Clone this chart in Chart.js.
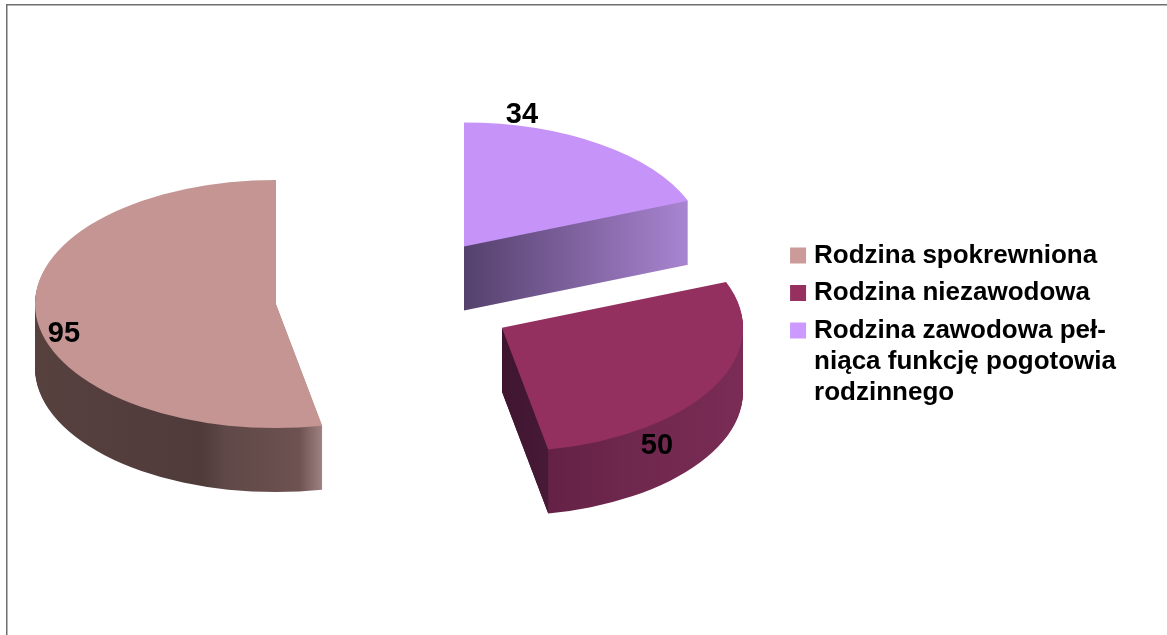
<!DOCTYPE html>
<html>
<head>
<meta charset="utf-8">
<title>Rodzina</title>
<script src="https://cdn.jsdelivr.net/npm/chart.js@4"></script>
<style>
    body { margin: 0; background: #fff; }
    canvas { display: block; }
</style>
</head>
<body>
<canvas id="pie3d" width="1167" height="635"></canvas>
<script>
// Values in legend order
const categories = [
    "Rodzina spokrewniona",
    "Rodzina niezawodowa",
    ["Rodzina zawodowa peł-", "niąca funkcję pogotowia", "rodzinnego"],
];
const values = [95, 50, 34];
const topColors = ["#c49593", "#93305f", "#c693f8"];
const legendColors = ["#cb9b99", "#96305f", "#cc99ff"];

// Wall colours for each slice, left to right
const wallStops = [
    [[0, "#57413f"], [0.58, "#4f3b3a"], [0.66, "#5f4847"], [0.92, "#6d5251"], [1, "#a08280"]],
    [[0, "#5f1e41"], [0.5, "#6e274d"], [1, "#7a2c55"]],
    [[0, "#54416c"], [0.5, "#7f629f"], [1, "#a985d1"]],
];
const cutFaceStops = [null, [[0, "#3f1530"], [1, "#471a37"]], null];
const labelSpots = [[64, 334], [657, 446], [522, 115]];

const SQUASH = 0.515;
const DEPTH = 64;
const EXPLODE = 120.7;
const CENTER_Y = 298;
const RADIUS = 241;

// Chart.js draws clockwise from the top, the picture goes the other way
const byDrawOrder = (list) => list.slice().reverse();

function screenY(chart, y) {
    const cy = (chart.chartArea.top + chart.chartArea.bottom) / 2;
    return CENTER_Y + (y - cy) * SQUASH;
}

function horizontalGradient(ctx, x0, x1, stops) {
    const gradient = ctx.createLinearGradient(x0, 0, x1, 0);
    stops.forEach((stop) => gradient.addColorStop(stop[0], stop[1]));
    return gradient;
}

const pie3d = {
    id: "pie3d",
    afterDatasetsUpdate(chart) {
        // pull the slices apart, the built in offset also changes the radius
        const cx = (chart.chartArea.left + chart.chartArea.right) / 2;
        const cy = (chart.chartArea.top + chart.chartArea.bottom) / 2;
        chart.getDatasetMeta(0).data.forEach((arc) => {
            const mid = (arc.startAngle + arc.endAngle) / 2;
            arc.x = Math.round(cx + Math.cos(mid) * EXPLODE);
            arc.y = cy + Math.sin(mid) * EXPLODE;
        });
    },
    beforeDraw(chart) {
        const ctx = chart.ctx;
        ctx.save();
        ctx.strokeStyle = "#6f6f6f";
        ctx.lineWidth = 1.5;
        ctx.beginPath();
        ctx.moveTo(6.75, 640);
        ctx.lineTo(6.75, 4.75);
        ctx.lineTo(1167, 4.75);
        ctx.stroke();
        ctx.restore();
    },
    beforeDatasetsDraw(chart) {
        const ctx = chart.ctx;
        const arcs = chart.getDatasetMeta(0).data;
        const walls = byDrawOrder(wallStops);
        const cuts = byDrawOrder(cutFaceStops);

        arcs.forEach((arc, i) => {
            const sx = arc.x;
            const sy = screenY(chart, arc.y);
            const r = arc.outerRadius;
            const s = arc.startAngle;
            const e = arc.endAngle;
            const xs = [sx, sx + Math.cos(s) * r, sx + Math.cos(e) * r];
            const left = s <= Math.PI && e >= Math.PI ? sx - r : Math.min(...xs);
            const right = s <= 0 && e >= 0 ? sx + r : Math.max(...xs);

            ctx.fillStyle = horizontalGradient(ctx, left, right, walls[i]);
            for (let d = DEPTH; d > 0; d--) {
                ctx.beginPath();
                ctx.moveTo(sx, sy + d);
                ctx.ellipse(sx, sy + d, r, r * SQUASH, 0, s, e);
                ctx.closePath();
                ctx.fill();
            }

            if (cuts[i]) {
                const ex = sx + Math.cos(e) * r;
                const ey = sy + Math.sin(e) * r * SQUASH;
                ctx.fillStyle = horizontalGradient(ctx, sx, ex, cuts[i]);
                ctx.beginPath();
                ctx.moveTo(sx, sy);
                ctx.lineTo(ex, ey);
                ctx.lineTo(ex, ey + DEPTH);
                ctx.lineTo(sx, sy + DEPTH);
                ctx.closePath();
                ctx.fill();
            }
        });

        // top faces: the library draws them through this squash
        const cy = (chart.chartArea.top + chart.chartArea.bottom) / 2;
        ctx.save();
        ctx.translate(0, CENTER_Y);
        ctx.scale(1, SQUASH);
        ctx.translate(0, -cy);
    },
    afterDatasetsDraw(chart) {
        const ctx = chart.ctx;
        ctx.restore();

        ctx.save();
        ctx.font = "bold 29px 'Liberation Sans'";
        ctx.fillStyle = "#000";
        ctx.textAlign = "center";
        ctx.textBaseline = "middle";
        values.forEach((value, i) => {
            ctx.fillText(String(value), labelSpots[i][0], labelSpots[i][1]);
        });
        ctx.restore();
    },
};

new Chart(document.getElementById("pie3d").getContext("2d"), {
    type: "pie",
    data: {
        labels: byDrawOrder(categories),
        datasets: [
            {
                data: byDrawOrder(values),
                backgroundColor: byDrawOrder(topColors),
                borderWidth: 0,
                clip: false,
            },
        ],
    },
    options: {
        responsive: false,
        animation: false,
        radius: RADIUS,
        layout: { padding: { left: 9.5, top: 18, right: 41 } },
        plugins: {
            tooltip: { enabled: false },
            legend: {
                position: "right",
                reverse: true,
                labels: {
                    boxWidth: 6,
                    boxHeight: 6,
                    padding: 11.5,
                    color: "#000",
                    font: { family: "'Liberation Sans'", size: 26, weight: "bold", lineHeight: "31px" },
                    // thick outline keeps the swatch at 16px with the text close to it
                    generateLabels(chart) {
                        const items = Chart.overrides.pie.plugins.legend.labels.generateLabels(chart);
                        const colors = byDrawOrder(legendColors);
                        items.forEach((item, i) => {
                            item.fillStyle = colors[i];
                            item.strokeStyle = colors[i];
                            item.lineWidth = 10;
                        });
                        return items;
                    },
                },
            },
        },
    },
    plugins: [pie3d],
});
</script>
</body>
</html>
